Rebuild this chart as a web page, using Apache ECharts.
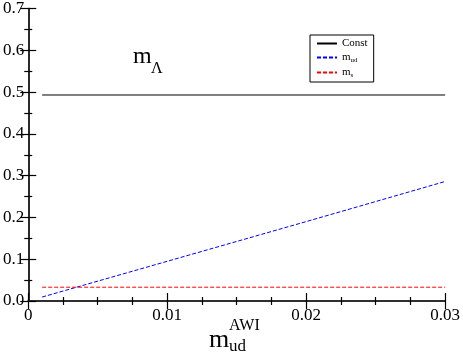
<!DOCTYPE html>
<html>
<head>
<meta charset="utf-8">
<script src="https://cdn.jsdelivr.net/npm/echarts@6/dist/echarts.min.js"></script>
<style>
  html, body { margin: 0; padding: 0; background: #fff; }
  #main { width: 463px; height: 353px; }
</style>
</head>
<body>
<div id="main"></div>
<script>
// values
var xConst = [0.001, 0.03];
var yConst = [0.493, 0.493];
var xMud = [0.001, 0.01, 0.02, 0.03];
var yMud = [0.0095, 0.095, 0.19, 0.286];
var xMs = [0.001, 0.03];
var yMs = [0.033, 0.033];

function pairs(xs, ys) {
    return xs.map(function (x, i) { return [x, ys[i]]; });
}

var serif = '"Liberation Serif", "DejaVu Serif", serif';
var axisLine = { show: true, lineStyle: { color: '#222', width: 1.6 } };
var tickIn = { show: true, inside: true, length: 8, lineStyle: { color: '#000', width: 1.2 } };
var minorIn = { show: true, splitNumber: 2, length: 4, lineStyle: { color: '#000', width: 1.2 } };

var myChart = echarts.init(document.getElementById('main'));
var option = {
    animation: false,
    backgroundColor: '#fff',
    grid: { left: 26, right: 16, top: 7, bottom: 52 },
    legend: {
        left: 310, top: 35,
        orient: 'vertical',
        padding: [3, 6, 3, 6],
        itemGap: 3,
        itemWidth: 20,
        itemHeight: 10,
        itemStyle: { opacity: 0 },
        borderColor: '#000',
        borderWidth: 1,
        borderRadius: 0,
        textStyle: {
            fontFamily: serif, fontSize: 11, color: '#000',
            rich: {
                n: { fontFamily: serif, fontSize: 11, color: '#000' },
                s: { fontFamily: serif, fontSize: 7, color: '#000', padding: [6, 0, 0, 0] }
            }
        },
        formatter: function (name) {
            if (name === 'm_ud') return '{n|m}{s|ud}';
            if (name === 'm_s') return '{n|m}{s|s}';
            return name;
        },
        data: ['Const', 'm_ud', 'm_s']
    },
    xAxis: [{
        type: 'value', min: 0, max: 0.03, interval: 0.01,
        axisLine: axisLine,
        axisTick: tickIn,
        minorTick: { show: true, splitNumber: 4, length: 4, lineStyle: { color: '#000', width: 1.2 } },
        splitLine: { show: false },
        axisLabel: {
            fontFamily: serif, fontSize: 17, color: '#000', margin: 6,
            formatter: function (v) { return v === 0 ? '0' : v.toFixed(2); }
        }
    }, {
        type: 'value', min: 0, max: 0.03, interval: 0.01, position: 'top',
        axisLine: axisLine,
        axisTick: tickIn,
        minorTick: { show: true, splitNumber: 4, length: 4, lineStyle: { color: '#000', width: 1.2 } },
        splitLine: { show: false },
        axisLabel: { show: false }
    }],
    yAxis: [{
        type: 'value', min: 0, max: 0.7, interval: 0.1,
        axisLine: axisLine,
        axisTick: tickIn,
        minorTick: minorIn,
        splitLine: { show: false },
        axisLabel: {
            fontFamily: serif, fontSize: 17, color: '#000', margin: 4,
            formatter: function (v) { return v.toFixed(1); }
        }
    }, {
        type: 'value', min: 0, max: 0.7, interval: 0.1, position: 'right',
        axisLine: axisLine,
        axisTick: tickIn,
        minorTick: minorIn,
        splitLine: { show: false },
        axisLabel: { show: false }
    }],
    series: [{
        name: 'Const', type: 'line', symbol: 'none',
        lineStyle: { color: '#000', width: 1, type: 'solid' },
        itemStyle: { color: '#000' },
        data: pairs(xConst, yConst)
    }, {
        name: 'm_ud', type: 'line', symbol: 'none',
        lineStyle: { color: '#0000ff', width: 1, type: [4, 2] },
        itemStyle: { color: '#0000ff' },
        data: pairs(xMud, yMud)
    }, {
        name: 'm_s', type: 'line', symbol: 'none',
        lineStyle: { color: '#ff0000', width: 1, type: [4, 2] },
        itemStyle: { color: '#ff0000' },
        data: pairs(xMs, yMs)
    }],
    graphic: [
        { type: 'text', left: 133, top: 45, style: { text: 'm', font: '24px ' + serif, fill: '#000' } },
        { type: 'text', left: 151, top: 61, style: { text: 'Λ', font: '16px ' + serif, fill: '#000' } },
        { type: 'text', left: 209, top: 327, style: { text: 'm', font: '26px ' + serif, fill: '#000' } },
        { type: 'text', left: 229, top: 318, style: { text: 'AWI', font: '16px ' + serif, fill: '#000' } },
        { type: 'text', left: 229, top: 338, style: { text: 'ud', font: '17px ' + serif, fill: '#000' } }
    ]
};
myChart.setOption(option);
</script>
</body>
</html>
